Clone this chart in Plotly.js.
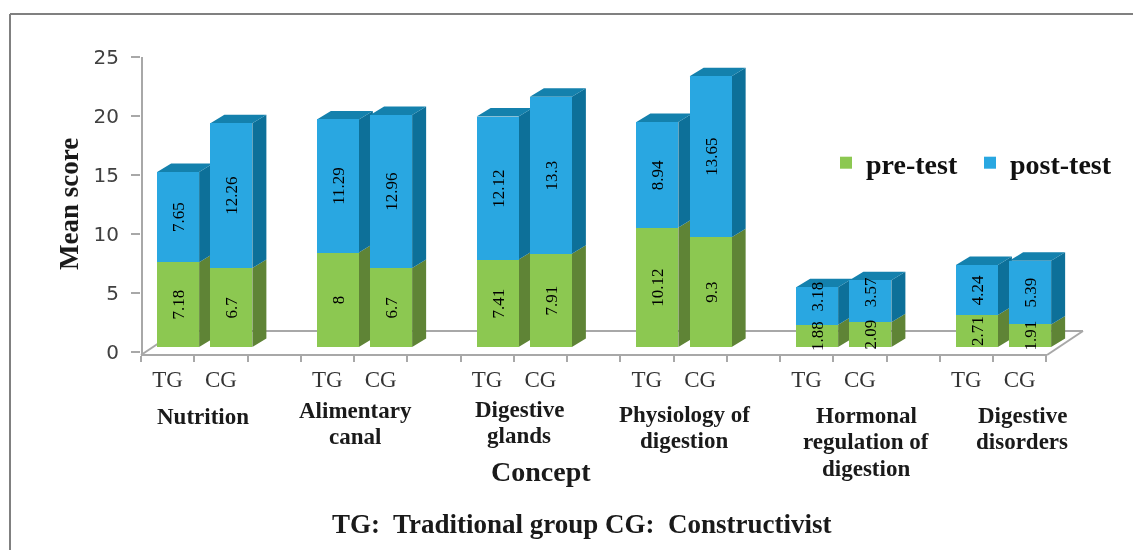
<!DOCTYPE html>
<html><head><meta charset="utf-8">
<script src="https://cdn.plot.ly/plotly-3.0.1.min.js"></script>
<style>html,body{margin:0;padding:0;background:#fff}#c{width:1133px;height:550px;filter:blur(0.55px)}</style>
</head><body><div id="c"></div>
<script>
const concepts = ["Nutrition","Alimentary<br>canal","Digestive<br>glands","Physiology of<br>digestion","Hormonal<br>regulation of<br>digestion","Digestive<br>disorders"];
const groups = ["TG","CG"];
const preTest  = [7.18,6.7, 8,6.7, 7.41,7.91, 10.12,9.3, 1.88,2.09, 2.71,1.91];
const postTest = [7.65,12.26, 11.29,12.96, 12.12,13.3, 8.94,13.65, 3.18,3.57, 4.24,5.39];
const preLabels  = ["7.18","6.7","8","6.7","7.41","7.91","10.12","9.3","1.88","2.09","2.71","1.91"];
const postLabels = ["7.65","12.26","11.29","12.96","12.12","13.3","8.94","13.65","3.18","3.57","4.24","5.39"];
const postLabelLift = [0,0,0,0,0,0,0,0,0.8,0.8,0,0];

const W=1133,H=550;
const L=141,R=1092,T=40,B=355, slotPx=53.25, unitPx=11.8, zeroPy=352;
const px=v=>v/W, py=v=>1-v/H;
const xr=[-0.5,-0.5+(R-L)/slotPx];
const yr=[-(B-zeroPy)/unitPx,(zeroPy-T)/unitPx];
const shiftX=10.5/slotPx, shiftY=5/unitPx;
const xr2=[xr[0]-shiftX,xr[1]-shiftX], yr2=[yr[0]-shiftY,yr[1]-shiftY];
const barW=42/slotPx, dx=14/slotPx, dy=8.5/unitPx;

const slots=[],names=[];
concepts.forEach((c,i)=>groups.forEach((g,j)=>{slots.push(i*3+j);names.push(g);}));
const edges=[];for(let k=0;k<=17;k++)edges.push(k-0.5);

function faces(lo,hi){const X=[],Y=[];
  slots.forEach((s,i)=>{const r=s+barW/2;
    X.push(r,r+dx,r+dx,r,r,null);Y.push(lo[i],lo[i]+dy,hi[i]+dy,hi[i],lo[i],null);});
  return {X,Y};}
function tops(hi){const X=[],Y=[];
  slots.forEach((s,i)=>{const l=s-barW/2,r=s+barW/2;
    X.push(l,l+dx,r+dx,r,l,null);Y.push(hi[i],hi[i]+dy,hi[i]+dy,hi[i],hi[i],null);});
  return {X,Y};}
const totals=preTest.map((v,i)=>v+postTest[i]);
const zeros=preTest.map(()=>0);
const sPre=faces(zeros,preTest), sPost=faces(preTest,totals), tTop=tops(totals);
const poly=(o,c)=>({type:'scatter',mode:'lines',x:o.X,y:o.Y,fill:'toself',fillcolor:c,line:{width:0,color:c},
  xaxis:'x2',yaxis:'y2',showlegend:false,hoverinfo:'skip',connectgaps:false});
const labelFont={family:'"Liberation Serif",serif',size:17,color:'#000'};
const bar=(name,y,base,c)=>({type:'bar',name,x:slots,y,base,width:barW,marker:{color:c,line:{width:0}},
  xaxis:'x3',yaxis:'y3',hoverinfo:'y'});
const labels=(y,base,t)=>({type:'bar',x:slots,y,base,width:barW,marker:{color:'rgba(0,0,0,0)',line:{width:0}},
  text:t,textposition:'inside',insidetextanchor:'middle',textangle:-90,constraintext:'none',cliponaxis:false,
  insidetextfont:labelFont,xaxis:'x4',yaxis:'y4',showlegend:false,hoverinfo:'skip'});

const data=[
 poly(sPre,'#5f8436'),poly(sPost,'#0d7099'),poly(tTop,'#1481ad'),
 bar('pre-test',preTest,zeros,'#8cc851'),
 bar('post-test',postTest,preTest,'#29a7e1'),
 labels(preTest,zeros,preLabels),
 labels(postTest,preTest.map((v,i)=>v+postLabelLift[i]),postLabels),
 {type:'scatter',x:[0],y:[0],mode:'markers',marker:{opacity:0},showlegend:false,hoverinfo:'skip',xaxis:'x',yaxis:'y'}
];

const serifB={family:'"Liberation Serif",serif',color:'#1a1a1a',weight:700};
const ann=(text,xp,yp,size,extra)=>Object.assign({text,xref:'paper',yref:'paper',x:px(xp),y:py(yp),showarrow:false,
  xanchor:'center',yanchor:'middle',align:'center',font:Object.assign({},serifB,{size})},extra||{});
const conceptAnn=[[203,416],[355,410],[519,409],[684,414],[866,415],[1022,415]];
const annotations=[];
concepts.forEach((c,i)=>c.split('<br>').forEach((line,k)=>
  annotations.push(ann(line,conceptAnn[i][0],conceptAnn[i][1]+k*26.5,23))));
annotations.push(ann('Concept',541,471,28));
annotations.push(ann('Mean score',69,204,27,{textangle:-90}));
annotations.push(ann('TG:\u00a0 Traditional group CG:\u00a0 Constructivist',582,524,27));

const gray='#a8a8a8';
const ln=(x0,y0,x1,y1,c,w)=>({type:'line',xref:'paper',yref:'paper',x0:px(x0),y0:py(y0),x1:px(x1),y1:py(y1),layer:'below',line:{color:c||gray,width:w||2}});
const shapes=[
 ln(141,355,1047,355),ln(1047,355,1083,331),ln(177,331,1083,331),ln(141,355,177,331),ln(142,57,142,355),
 ln(10,14,1133,14,'#808080',2),ln(10,14,10,550,'#808080',2)
];

const hidden=(range,over,anchor,dom)=>({range,overlaying:over,anchor,domain:dom,visible:false,fixedrange:true});
const domX=[px(L),px(R)],domY=[py(B),py(T)];
const layout={width:W,height:H,margin:{l:0,r:0,t:0,b:0},paper_bgcolor:'#fff',plot_bgcolor:'rgba(0,0,0,0)',
 barmode:'overlay',bargap:0,showlegend:true,
 legend:{orientation:'h',x:px(826),y:py(138),xanchor:'left',yanchor:'top',entrywidth:99,entrywidthmode:'pixels',
   font:{family:'"Liberation Serif",serif',size:28,color:'#111',weight:700},bgcolor:'rgba(0,0,0,0)',traceorder:'normal'},
 xaxis:{range:xr,domain:domX,anchor:'y',showgrid:false,zeroline:false,showline:false,
   tickmode:'array',tickvals:slots,ticktext:names,ticks:'',ticklabelstandoff:8,
   tickfont:{family:'"Liberation Serif",serif',size:23,color:'#333'},
   minor:{tickmode:'array',tickvals:edges,ticks:'outside',ticklen:6,tickwidth:2,tickcolor:gray,showgrid:false}},
 yaxis:{range:yr,domain:domY,anchor:'x',showgrid:false,zeroline:false,showline:false,
   tickmode:'array',tickvals:[0,5,10,15,20,25],ticks:'outside',ticklen:9,tickwidth:2,tickcolor:gray,ticklabelstandoff:8,
   tickfont:{family:'"DejaVu Sans",sans-serif',size:20,color:'#404040'}},
 xaxis2:hidden(xr2,'x','y2',domX),yaxis2:hidden(yr2,'y','x2',domY),
 xaxis3:hidden(xr2,'x','y3',domX),yaxis3:hidden(yr2,'y','x3',domY),
 xaxis4:hidden(xr2,'x','y4',domX),yaxis4:hidden(yr2,'y','x4',domY),
 annotations,shapes};
Plotly.newPlot('c',data,layout,{displayModeBar:false,responsive:false});
</script></body></html>
